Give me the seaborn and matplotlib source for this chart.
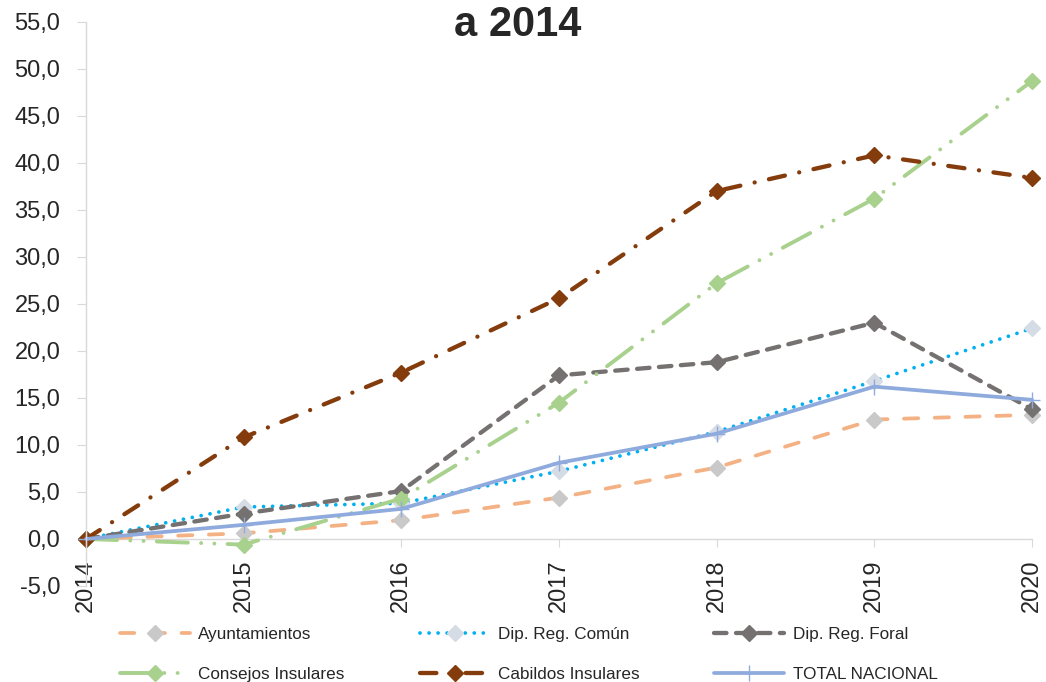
import matplotlib
matplotlib.use("Agg")
import matplotlib.pyplot as plt
import matplotlib.ticker as mticker
import seaborn as sns
import pandas as pd

years = [2014, 2015, 2016, 2017, 2018, 2019, 2020]
ayuntamientos = [0.0, 0.6, 2.0, 4.4, 7.6, 12.7, 13.2]
dip_comun = [0.0, 3.4, 3.8, 7.2, 11.4, 16.8, 22.4]
dip_foral = [0.0, 2.7, 5.1, 17.4, 18.8, 23.0, 13.8]
consejos = [0.0, -0.6, 4.3, 14.5, 27.2, 36.2, 48.7]
cabildos = [0.0, 10.8, 17.7, 25.6, 37.0, 40.8, 38.4]
total = [0.0, 1.5, 3.2, 8.1, 11.2, 16.2, 14.8]

sns.set_style("white")
plt.rcParams['font.family'] = ['Liberation Sans', 'DejaVu Sans']

fig = plt.figure(figsize=(10.46, 6.82), dpi=100)
ax = fig.add_axes([0.0822, 0.1408, 0.9044, 0.8272])

# name, values, colour, dashes, marker, marker colour, marker size, line width
series = [
    ("Ayuntamientos", ayuntamientos, "#F4B183", (0, (3.8, 4.4)), "D", "#C9C9C9", 8, 2.7),
    ("Dip. Reg. Común", dip_comun, "#00B0F0", (0, (0.01, 2.4)), "D", "#D6DCE5", 8, 2.7),
    ("Dip. Reg. Foral", dip_foral, "#767171", (0, (2.9, 2.2)), "D", "#767171", 8, 3.1),
    ("Consejos Insulares", consejos, "#A9D18E", (0, (8, 3.4, 0.01, 3.4, 0.01, 3.4)), "D", "#A9D18E", 8, 2.8),
    ("Cabildos Insulares", cabildos, "#843C0C", (0, (3.8, 3.4, 0.01, 3.4)), "D", "#843C0C", 8, 3.1),
    ("TOTAL NACIONAL", total, "#8FAADC", "-", "+", "#8FAADC", 12, 2.7),
]

for name, vals, col, ls, mk, mcol, ms, lw in series:
    df = pd.DataFrame({"year": years, "val": vals})
    sns.lineplot(data=df, x="year", y="val", ax=ax, color=col, linewidth=lw,
                 linestyle=ls, marker=mk, markersize=ms, markerfacecolor=mcol,
                 markeredgecolor=mcol, markeredgewidth=1.0, label=name,
                 dash_capstyle="round", clip_on=False)
ax.get_legend().remove()

ax.set_xlim(2014, 2020)
ax.set_ylim(-5, 55)
ax.set_xticks(years)
ax.set_yticks(range(-5, 56, 5))
ax.yaxis.set_major_formatter(mticker.FuncFormatter(lambda v, p: f"{v:.1f}".replace(".", ",")))
ax.set_xlabel("")
ax.set_ylabel("")

for s in ["top", "right"]:
    ax.spines[s].set_visible(False)
ax.spines["left"].set_color("#D9D9D9")
ax.spines["bottom"].set_color("#D9D9D9")
ax.spines["bottom"].set_position(("data", 0))
ax.spines["left"].set_linewidth(1)
ax.spines["bottom"].set_linewidth(1)
ax.spines["bottom"].set_zorder(0)

ax.tick_params(axis="y", length=6.5, color="#D9D9D9", labelsize=17, pad=12, left=True)
ax.tick_params(axis="x", length=6, color="#D9D9D9", direction="out", labelsize=17,
               bottom=True, labelrotation=90, pad=9)

fig.text(0.495, 0.963, "a 2014", ha="center", va="center", fontsize=30,
         fontweight="bold")

h, l = ax.get_legend_handles_labels()
order = [0, 3, 1, 4, 2, 5]
fig.legend([h[i] for i in order], [l[i] for i in order], ncol=3, loc="lower left",
           bbox_to_anchor=(0.1, -0.022), frameon=False, fontsize=12.3,
           handlelength=4.1, columnspacing=4.4, labelspacing=1.45, handletextpad=0.47)

fig.savefig("out.png", dpi=100)
